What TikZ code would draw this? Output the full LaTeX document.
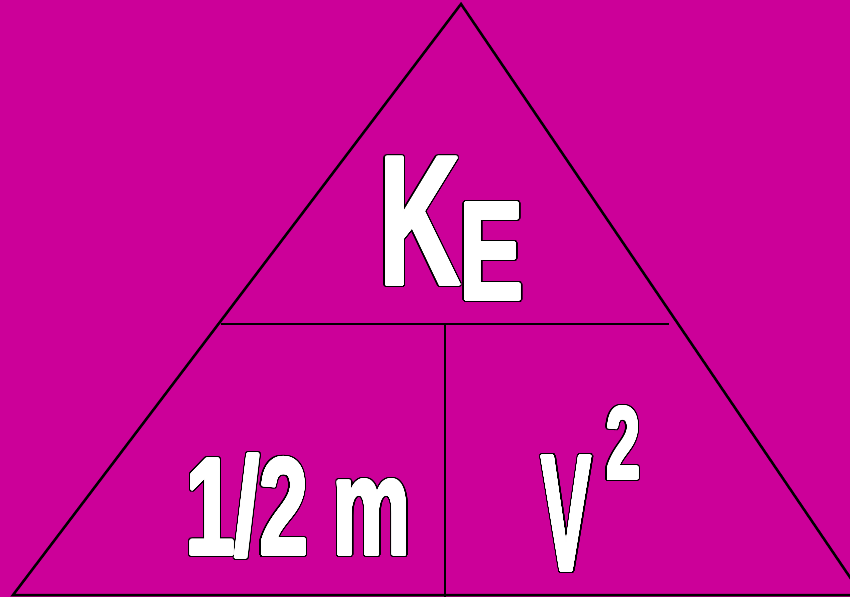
\documentclass[tikz,border=0pt]{standalone}
\usepackage{fontspec}
\setmainfont{Liberation Sans}
\usepackage{contour}
\contournumber{40}
\definecolor{bg}{RGB}{204,0,153}
% black outline layer
\newcommand{\olbl}[3]{\contourlength{2.6pt}\contour{black}{\scalebox{#2}[1]{\fontsize{#1}{#1}\selectfont\bfseries #3}}}
% white emboldening layer
\newcommand{\wlbl}[3]{\contourlength{1.1pt}\contour{white}{\scalebox{#2}[1]{\fontsize{#1}{#1}\selectfont\bfseries #3}}}
\begin{document}
\begin{tikzpicture}[x=1pt,y=-1pt,line width=2.5pt,
  lbl/.style={inner sep=0pt,outer sep=0pt,text=white,anchor=base}]
\fill[bg] (0,0) rectangle (850,597);
\useasboundingbox (0,0) rectangle (850,597);
\clip (0,0) rectangle (850,597);
\coordinate (A) at (461,4);
\coordinate (B) at (13,595);
\coordinate (C) at (862,595);
\draw (A) -- (B) -- (C) -- cycle;
\coordinate (H1) at (221,324);
\coordinate (H2) at (669,324);
\draw (H1) -- (H2);
\coordinate (V1) at (445,324);
\coordinate (V2) at (445,597);
\draw (V1) -- (V2);
\node[lbl] (K) at (420,285) {\olbl{185}{0.61}{K}};
\node[lbl] (Kw) at (420,285) {\wlbl{185}{0.61}{K}};
\node[lbl] (E) at (491.5,300) {\olbl{141}{0.68}{E}};
\node[lbl] (Ew) at (491.5,300) {\wlbl{141}{0.68}{E}};
\node[lbl] (half) at (298.5,555) {\olbl{139}{0.633}{1/2 m}};
\node[lbl] (halfw) at (298.5,555) {\wlbl{139}{0.633}{1/2 m}};
\node[lbl] (V) at (566.5,571) {\olbl{167}{0.447}{V}};
\node[lbl] (Vw) at (566.5,571) {\wlbl{167}{0.447}{V}};
\node[lbl] (sq) at (623,479) {\olbl{103}{0.59}{2}};
\node[lbl] (sqw) at (623,479) {\wlbl{103}{0.59}{2}};
\end{tikzpicture}
\end{document}
